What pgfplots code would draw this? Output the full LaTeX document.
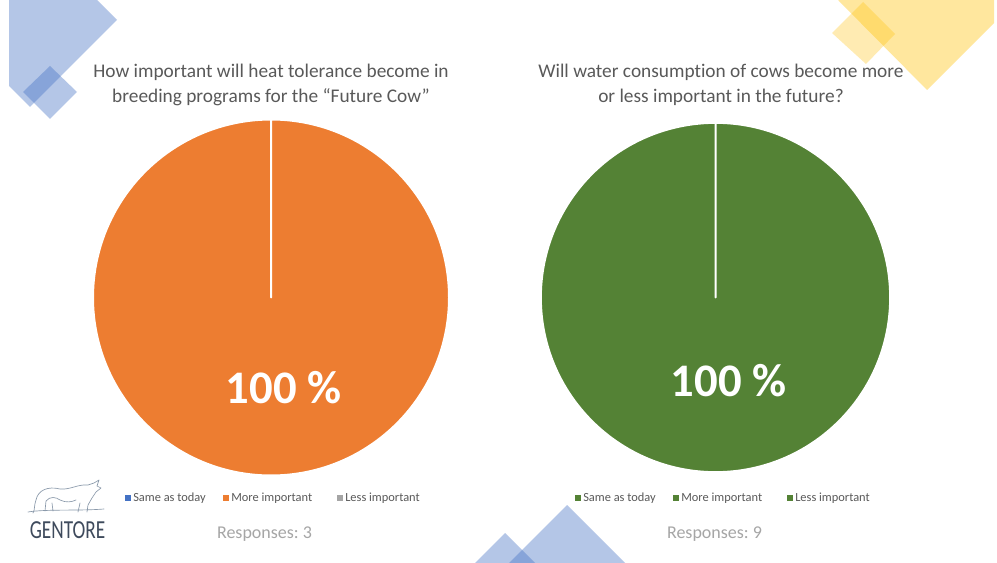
\documentclass[border=0pt]{standalone}
\usepackage{pgfplots}
\usepackage{pgfplotstable}
\pgfplotsset{compat=1.18}
\usepackage{fontspec}
\setmainfont[Ligatures=NoCommon]{Carlito}
\frenchspacing
\definecolor{pblue}{HTML}{4472C4}
\definecolor{porange}{HTML}{ED7D31}
\definecolor{pgray}{HTML}{A5A5A5}
\definecolor{pgreen}{HTML}{548235}
\definecolor{dblue}{HTML}{4472C4}
\definecolor{dyellow}{HTML}{FFC000}
\definecolor{ttext}{HTML}{595959}
\definecolor{rtext}{HTML}{A6A6A6}
\definecolor{logo}{HTML}{3E4A5C}
\definecolor{logol}{HTML}{8A99AA}

% data: left pie (heat tolerance), right pie (water consumption)
\pgfplotstableread{
cat value
Same 0
More 100
Less 0
}\heattable
\pgfplotstableread{
cat value
Same 0
More 100
Less 0
}\watertable

\pgfplotstablegetelem{0}{value}\of\heattable \let\hA\pgfplotsretval
\pgfplotstablegetelem{1}{value}\of\heattable \let\hB\pgfplotsretval
\pgfplotstablegetelem{2}{value}\of\heattable \let\hC\pgfplotsretval
\pgfplotstablegetelem{0}{value}\of\watertable \let\wA\pgfplotsretval
\pgfplotstablegetelem{1}{value}\of\watertable \let\wB\pgfplotsretval
\pgfplotstablegetelem{2}{value}\of\watertable \let\wC\pgfplotsretval

\pgfmathsetmacro{\hsa}{90}
\pgfmathsetmacro{\hea}{90-3.6*\hA}
\pgfmathsetmacro{\heb}{\hea-3.6*\hB}
\pgfmathsetmacro{\hec}{\heb-3.6*\hC}
\pgfmathsetmacro{\wsa}{90}
\pgfmathsetmacro{\wea}{90-3.6*\wA}
\pgfmathsetmacro{\web}{\wea-3.6*\wB}
\pgfmathsetmacro{\wec}{\web-3.6*\wC}

% slice: center x, center y, radius(pt), start, end, colour
\newcommand{\slice}[6]{%
  \pgfmathparse{abs(#5-#4)>0.01}%
  \ifnum\pgfmathresult=1
  \fill[#6,draw=white,line width=1.5pt,line join=round] (axis cs:#1,#2) -- ++(#4:#3) arc[start angle=#4,end angle=#5,radius=#3] -- cycle;
  \fi}
\newcommand{\legitem}[3]{%
  \fill[#2] (axis cs:#1-3,495) rectangle (axis cs:#1+3,501);
  \node[ttext,anchor=west,font=\fontsize{9.3}{11}\selectfont,inner sep=0pt] at (axis cs:#1+5,498) {#3};}

\begin{document}
\begin{tikzpicture}
\fill[white] (0,0) rectangle (747.75pt,422.25pt);
\begin{axis}[
  at={(0,0)},anchor=south west,
  scale only axis,width=747.75pt,height=422.25pt,
  xmin=0,xmax=997,ymin=0,ymax=563,y dir=reverse,
  hide axis,clip=false]
% decorative diamonds
\fill[dblue,opacity=0.4] (axis cs:9,0) -- (axis cs:97,0) -- (axis cs:117,20) -- (axis cs:30,107) -- (axis cs:9,86) -- cycle;
\fill[dblue,opacity=0.4] (axis cs:50,66) -- (axis cs:77,92) -- (axis cs:50,119) -- (axis cs:23,92) -- cycle;
\fill[dyellow,opacity=0.38] (axis cs:838,0) -- (axis cs:927,90) -- (axis cs:994,23) -- (axis cs:994,0) -- cycle;
\fill[dyellow,opacity=0.3] (axis cs:863,2) -- (axis cs:895,34) -- (axis cs:866,64) -- (axis cs:832,33) -- cycle;
\fill[dblue,opacity=0.4] (axis cs:567,505) -- (axis cs:625,563) -- (axis cs:509,563) -- cycle;
\fill[dblue,opacity=0.4] (axis cs:505,533) -- (axis cs:535,563) -- (axis cs:475,563) -- cycle;

% left pie
\slice{271}{297.5}{133.5pt}{\hsa}{\hea}{pblue}
\slice{271}{297.5}{133.5pt}{\hea}{\heb}{porange}
\slice{271}{297.5}{133.5pt}{\heb}{\hec}{pgray}
% right pie
\slice{715.5}{297.5}{131pt}{\wsa}{\wea}{pgreen}
\slice{715.5}{297.5}{131pt}{\wea}{\web}{pgreen}
\slice{715.5}{297.5}{131pt}{\web}{\wec}{pgreen}

\node[white,font=\fontsize{35}{40}\selectfont\bfseries] at (axis cs:283.5,388) {\hB\ \%};
\node[white,font=\fontsize{35}{40}\selectfont\bfseries] at (axis cs:728.5,381) {\wB\ \%};

% titles
\node[ttext,font=\fontsize{14.5}{18.75}\selectfont,align=center] at (axis cs:271,84.5) {How important will heat tolerance become in\\breeding programs for the “Future Cow”};
\node[ttext,font=\fontsize{14.5}{18.75}\selectfont,align=center] at (axis cs:721,84.5) {Will water consumption of cows become more\\or less important in the future?};

% legends
\legitem{128}{pblue}{Same as today}
\legitem{226}{porange}{More important}
\legitem{340}{pgray}{Less important}
\legitem{578}{pgreen}{Same as today}
\legitem{676}{pgreen}{More important}
\legitem{790}{pgreen}{Less important}

\node[rtext,font=\fontsize{13.5}{15}\selectfont] at (axis cs:264.5,534) {Responses: 3};
\node[rtext,font=\fontsize{13.5}{15}\selectfont] at (axis cs:714.5,534) {Responses: 9};

% logo
\draw[logol,line width=0.5pt,line cap=round,line join=round]
  (axis cs:36,500) .. controls (axis cs:38,490) and (axis cs:48,486) .. (axis cs:60,489)
  .. controls (axis cs:70,490) and (axis cs:78,484) .. (axis cs:88,485)
  -- (axis cs:94,483) -- (axis cs:99,480) -- (axis cs:97,486) -- (axis cs:101,488)
  -- (axis cs:96,492) -- (axis cs:92,498) -- (axis cs:88,505)
  (axis cs:88,505) -- (axis cs:87,512)
  (axis cs:80,503) -- (axis cs:78,512)
  (axis cs:36,500) .. controls (axis cs:34,505) and (axis cs:35,510) .. (axis cs:33,513)
  (axis cs:46,501) .. controls (axis cs:50,496) and (axis cs:56,497) .. (axis cs:60,500)
  .. controls (axis cs:66,503) and (axis cs:72,502) .. (axis cs:76,500)
  (axis cs:46,501) -- (axis cs:45,511)
  (axis cs:52,503) -- (axis cs:53,511)
  (axis cs:28,512) .. controls (axis cs:45,509) and (axis cs:80,511) .. (axis cs:104,509);
\node[logo,font=\fontsize{19.5}{20}\selectfont,inner sep=0pt] at (axis cs:67.5,530) {\scalebox{0.74}[1]{GENTORE}};
\end{axis}
\end{tikzpicture}
\end{document}
